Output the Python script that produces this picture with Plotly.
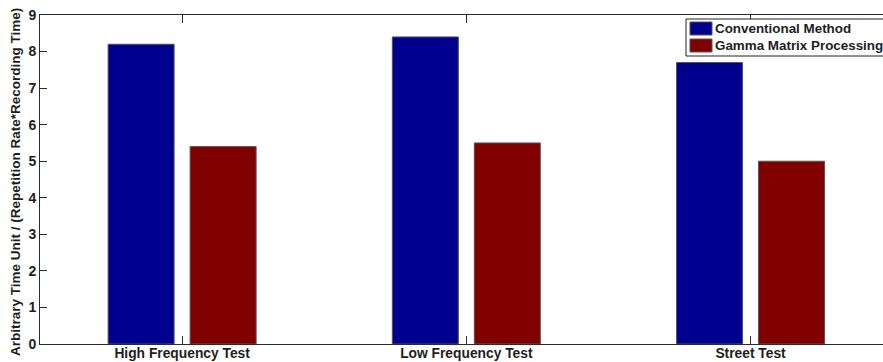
import plotly.graph_objects as go

# Data
categories = ["High Frequency Test", "Low Frequency Test", "Street Test"]
series_names = ["Conventional Method", "Gamma Matrix Processing"]
conventional = [8.2, 8.4, 7.7]
gamma_matrix = [5.4, 5.5, 5.0]
series_values = [conventional, gamma_matrix]
series_colors = ["#00008F", "#800000"]
y_ticks = list(range(0, 10))
y_title = "Arbitrary Time Unit / (Repetition Rate*Recording Time)"

W, H = 883, 362
font_family = "Liberation Sans, Arial, Helvetica, sans-serif"
axis_color = "#2b2b2b"
text_color = "#1e1e1e"

fig = go.Figure()
for name, vals, col in zip(series_names, series_values, series_colors):
    fig.add_trace(go.Bar(
        x=categories, y=vals, name=name,
        marker=dict(color=col, line=dict(color="#555555", width=1)),
        showlegend=False,
    ))

fig.update_layout(
    width=W, height=H,
    margin=dict(l=40, r=0, t=15, b=18),
    paper_bgcolor="white", plot_bgcolor="white",
    barmode="group", bargap=0.423, bargroupgap=0.195,
    font=dict(family=font_family, size=13, color=text_color, weight="bold"),
)

fig.update_xaxes(
    type="category", range=[-0.5, 2.466], automargin=False,
    showline=True, linecolor=axis_color, linewidth=1, mirror="ticks",
    ticks="inside", ticklen=8, tickcolor=axis_color, tickwidth=1,
    tickfont=dict(size=13.8, family=font_family, weight="bold", color=text_color),
    ticklabelstandoff=-4,
    showgrid=False, zeroline=False,
)
fig.update_yaxes(
    range=[0, 9], tickvals=y_ticks, automargin=False,
    showline=True, linecolor=axis_color, linewidth=1, mirror=False,
    ticks="inside", ticklen=7, tickcolor=axis_color, tickwidth=1,
    tickfont=dict(size=14, family=font_family, weight="bold", color=text_color),
    showgrid=False, zeroline=False,
)

# Helpers: pixel positions to paper coordinates
def px_x(x):
    return (x - 40) / (W - 40)

def px_y(y):
    return 1 - (y - 15) / (H - 15 - 18)

# Rotated y-axis title
fig.add_annotation(xref="paper", yref="paper", x=px_x(15.5), y=px_y(182.5),
                   xanchor="center", yanchor="middle", showarrow=False,
                   textangle=-90, text=y_title,
                   font=dict(size=13.5, family=font_family, weight="bold",
                             color=text_color))

# Legend box
fig.add_shape(type="rect", xref="paper", yref="paper",
              x0=px_x(686), x1=px_x(900), y0=px_y(56), y1=px_y(19),
              line=dict(color="#222222", width=1), fillcolor="white")
row_tops = [22, 39]
for name, col, top in zip(series_names, series_colors, row_tops):
    fig.add_shape(type="rect", xref="paper", yref="paper",
                  x0=px_x(690), x1=px_x(712), y0=px_y(top + 13), y1=px_y(top),
                  line=dict(color="#555555", width=1), fillcolor=col)
    fig.add_annotation(xref="paper", yref="paper",
                       x=px_x(713), y=px_y(top + 6.5),
                       xanchor="left", yanchor="middle", showarrow=False,
                       text=name, font=dict(size=13.4, family=font_family,
                                            weight="bold", color=text_color))

fig.write_html("out.html")
